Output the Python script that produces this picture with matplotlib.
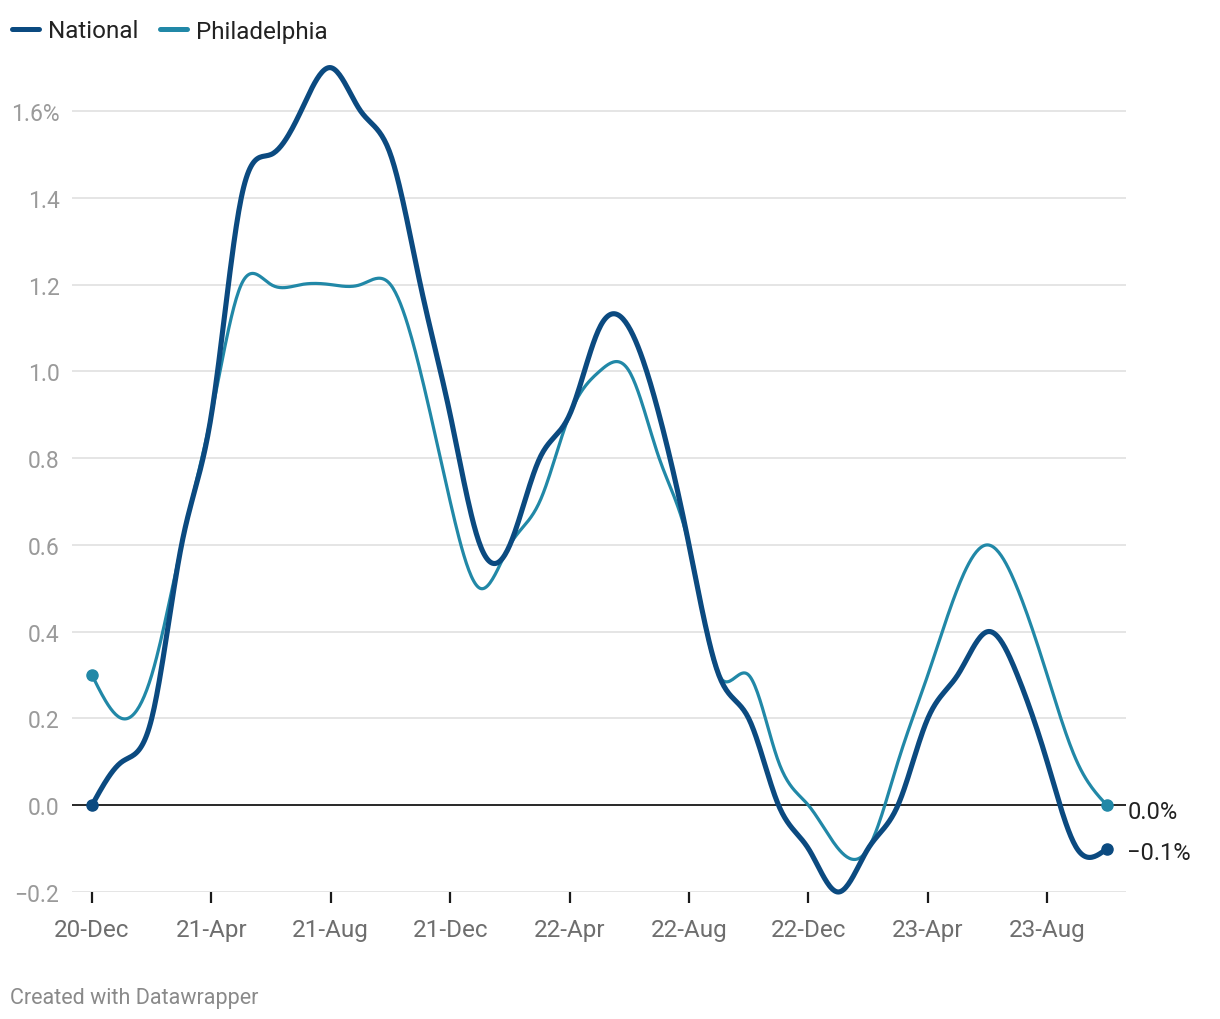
import numpy as np
import pandas as pd
import matplotlib
matplotlib.use("Agg")
import matplotlib.pyplot as plt
from matplotlib.lines import Line2D

plt.rcParams['font.family'] = ['Roboto', 'DejaVu Sans']

# monthly % change, Dec 2020 .. Oct 2023
months = pd.date_range('2020-12-01', periods=35, freq='MS')
month_labels = [d.strftime('%y-%b') for d in months]

national = [0.0, 0.1, 0.2, 0.6, 0.9, 1.4, 1.5, 1.6, 1.7, 1.6,
            1.5, 1.2, 0.9, 0.6, 0.6, 0.8, 0.9, 1.1, 1.1, 0.9,
            0.6, 0.3, 0.2, 0.0, -0.1, -0.2, -0.1, 0.0, 0.2, 0.3,
            0.4, 0.3, 0.1, -0.1, -0.1]
philadelphia = [0.3, 0.2, 0.3, 0.6, 0.9, 1.2, 1.2, 1.2, 1.2, 1.2,
                1.2, 1.0, 0.7, 0.5, 0.6, 0.7, 0.9, 1.0, 1.0, 0.8,
                0.6, 0.3, 0.3, 0.1, 0.0, -0.1, -0.1, 0.1, 0.3, 0.5,
                0.6, 0.5, 0.3, 0.1, 0.0]

y_ticks = [-0.2, 0.0, 0.2, 0.4, 0.6, 0.8, 1.0, 1.2, 1.4, 1.6]
y_tick_labels = ['\u22120.2', '0.0', '0.2', '0.4', '0.6', '0.8', '1.0', '1.2', '1.4', '1.6%']

NAT_COLOR = '#0b4a80'
PHL_COLOR = '#2188a7'


def natural_spline(y, steps=24):
    """Natural cubic spline through evenly spaced points (like d3.curveNatural)."""
    y = np.asarray(y, dtype=float)
    n = len(y)
    A = np.zeros((n, n))
    b = np.zeros(n)
    A[0, 0] = A[-1, -1] = 1.0
    for i in range(1, n - 1):
        A[i, i - 1], A[i, i], A[i, i + 1] = 1.0, 4.0, 1.0
        b[i] = 6.0 * (y[i + 1] - 2 * y[i] + y[i - 1])
    M = np.linalg.solve(A, b)
    xs, ys = [], []
    for i in range(n - 1):
        t = np.linspace(0, 1, steps, endpoint=False)
        a = y[i]
        c = M[i] / 2
        d = (M[i + 1] - M[i]) / 6
        bb = (y[i + 1] - y[i]) - (2 * M[i] + M[i + 1]) / 6
        xs.append(i + t)
        ys.append(a + bb * t + c * t ** 2 + d * t ** 3)
    xs.append([n - 1])
    ys.append([y[-1]])
    return np.concatenate(xs), np.concatenate(ys)


fig = plt.figure(figsize=(12.2, 10.2), dpi=100)
ax = fig.add_axes([72 / 1220, 127 / 1020, 1054 / 1220, 833 / 1020])

x = np.arange(len(months))
last = len(months) - 1

for values, color, lw in [(philadelphia, PHL_COLOR, 2.3), (national, NAT_COLOR, 3.7)]:
    sx, sy = natural_spline(values)
    ax.plot(sx, sy, color=color, lw=lw, solid_capstyle='round', zorder=3, clip_on=False)
    ax.plot([x[0], x[last]], [values[0], values[last]], 'o', color=color,
            ms=8, zorder=4, clip_on=False)

ax.axhline(0, color='#1a1a1a', lw=1.3, zorder=2)

ax.set_xlim(-0.67, last + 0.64)
ax.set_ylim(-0.2, 1.72)

ax.set_yticks(y_ticks)
ax.set_yticklabels(y_tick_labels)
ax.set_xticks(x[::4])
ax.set_xticklabels(month_labels[::4])

ax.grid(axis='y', color='#e3e3e3', lw=1.3, zorder=0)
ax.grid(axis='x', visible=False)
for s in ax.spines.values():
    s.set_visible(False)

ax.tick_params(axis='y', length=0, pad=9, labelsize=16.5, labelcolor='#9a9a9a')
ax.tick_params(axis='x', length=8, width=1.6, color='#1a1a1a', pad=11,
               labelsize=17.5, labelcolor='#6e6e6e', direction='out')

# end labels
ax.text(last + 0.68, philadelphia[last] - 0.014, '0.0%', fontsize=17, color='#222222',
        va='center', ha='left')
ax.text(last + 0.68, national[last] - 0.008, '\u22120.1%', fontsize=17, color='#222222',
        va='center', ha='left')

# legend
for x0, label, color in [(12, 'National', NAT_COLOR), (160, 'Philadelphia', PHL_COLOR)]:
    fig.add_artist(Line2D([x0 / 1220, (x0 + 27) / 1220], [990 / 1020, 990 / 1020],
                          color=color, lw=3.6, solid_capstyle='round'))
    fig.text((x0 + 36) / 1220, 988 / 1020, label, fontsize=17.5, color='#222222',
             va='center', ha='left')

fig.text(10 / 1220, 21 / 1020, 'Created with Datawrapper', fontsize=15.5,
         color='#8a8a8a', va='center', ha='left')

fig.savefig('out.png', dpi=100, facecolor='white')
